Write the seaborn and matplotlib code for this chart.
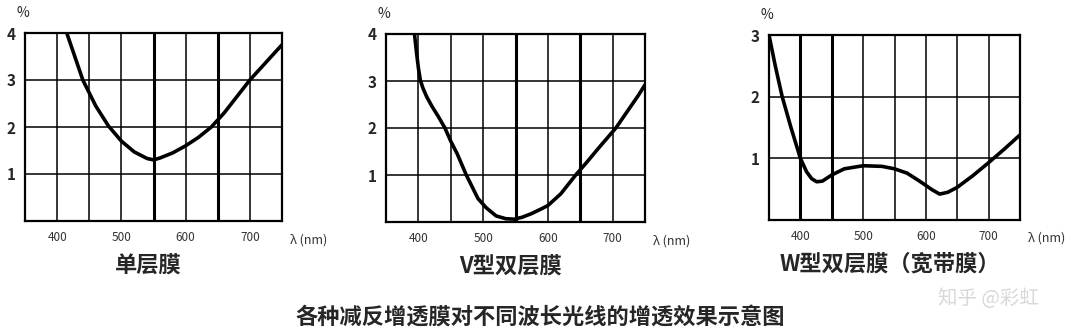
import matplotlib
matplotlib.use("Agg")
import matplotlib.pyplot as plt
import seaborn as sns
import pandas as pd

# ---- data ----
wl_single = [415, 425, 440, 460, 480, 500, 520, 540, 550, 560, 580, 600, 620, 640, 660, 680, 700, 720, 740, 750]
r_single = [4.0, 3.6, 3.0, 2.45, 2.02, 1.7, 1.47, 1.33, 1.3, 1.34, 1.45, 1.6, 1.78, 2.0, 2.3, 2.65, 3.0, 3.3, 3.6, 3.75]

wl_v = [394, 397, 400, 403, 407, 413, 421, 431, 441, 450, 460, 474, 492, 505, 520, 535, 548, 560, 575, 590, 600, 620, 643, 660, 680, 705, 720, 740, 750]
r_v = [4.0, 3.62, 3.28, 3.02, 2.85, 2.66, 2.46, 2.24, 2.0, 1.72, 1.45, 1.0, 0.5, 0.3, 0.13, 0.07, 0.06, 0.1, 0.18, 0.28, 0.35, 0.6, 1.0, 1.27, 1.6, 2.0, 2.3, 2.7, 2.92]

wl_w = [350, 360, 371, 385, 400, 410, 418, 426, 435, 450, 470, 500, 530, 550, 570, 590, 600, 610, 622, 635, 650, 675, 700, 725, 750]
r_w = [3.0, 2.5, 2.0, 1.5, 1.0, 0.78, 0.67, 0.62, 0.63, 0.73, 0.83, 0.88, 0.87, 0.83, 0.76, 0.63, 0.56, 0.49, 0.42, 0.45, 0.53, 0.72, 0.93, 1.15, 1.38]

x_ticks = [400, 500, 600, 700]
titles = ["单层膜", "V型双层膜", "W型双层膜（宽带膜）"]
y_ticks_list = [[1, 2, 3, 4], [1, 2, 3, 4], [1, 2, 3]]
y_max_list = [4, 4, 3]
thick_lines = [[550, 650], [550, 650], [400, 450]]
caption = "各种减反增透膜对不同波长光线的增透效果示意图"
watermark = "知乎 @彩虹"

sns.set_style("white")
plt.rcParams['font.family'] = ['Noto Sans CJK SC', 'DejaVu Sans']

fig = plt.figure(figsize=(10.8, 3.35), dpi=100)
rects = [
    [25 / 1080, 1 - 221 / 335, 257 / 1080, 188 / 335],
    [386 / 1080, 1 - 222 / 335, 259 / 1080, 188 / 335],
    [769 / 1080, 1 - 220 / 335, 251 / 1080, 185 / 335],
]
series = [(wl_single, r_single), (wl_v, r_v), (wl_w, r_w)]

for i, (rect, (wl, rr)) in enumerate(zip(rects, series)):
    ax = fig.add_axes(rect)
    df = pd.DataFrame({"wl": wl, "r": rr})
    ymax = y_max_list[i]
    # grid
    for gx in range(400, 750, 50):
        lw = 2.2 if gx in thick_lines[i] else 1.1
        ax.axvline(gx, color="black", lw=lw, zorder=1)
    for gy in range(1, ymax):
        ax.axhline(gy, color="black", lw=1.1, zorder=1)
    sns.lineplot(data=df, x="wl", y="r", ax=ax, color="black", lw=2.6, zorder=3)
    ax.set_xlim(350, 750)
    ax.set_ylim(0, ymax)
    ax.set_xticks(x_ticks)
    ax.set_xticklabels([str(t) for t in x_ticks], fontsize=8.5, color="#333333")
    ax.set_yticks(y_ticks_list[i])
    ax.set_yticklabels([str(t) for t in y_ticks_list[i]], fontsize=11, fontweight="bold")
    ax.tick_params(axis="x", length=0, pad=7)
    ax.tick_params(axis="y", length=0, pad=7)
    ax.set_xlabel("")
    ax.set_ylabel("")
    for s in ax.spines.values():
        s.set_color("black")
        s.set_linewidth(1.6)
    ax.text(-0.01, 1.07, "%", transform=ax.transAxes, fontsize=10, ha="center", va="bottom")
    ax.text(1.03, -0.1, "λ (nm)", transform=ax.transAxes, fontsize=9, ha="left", va="center", color="#333333")
    ax.text(0.48, -0.24, titles[i], transform=ax.transAxes, fontsize=16, ha="center", va="center",
            fontweight="bold")

fig.text(0.5, 1 - 318 / 335, caption, fontsize=16, ha="center", va="center", fontweight="bold")
fig.text(0.915, 1 - 298 / 335, watermark, fontsize=14, ha="center", va="center", color="#d8d8d8")

fig.savefig("out.png", dpi=100, facecolor="white")
